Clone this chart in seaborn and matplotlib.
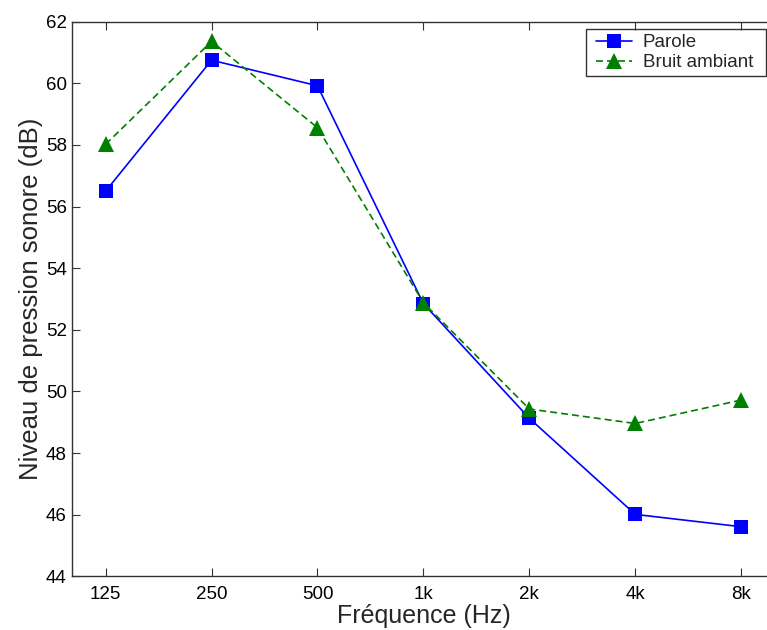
import numpy as np
import pandas as pd
import matplotlib
matplotlib.use("Agg")
import matplotlib.pyplot as plt
import matplotlib.patches as mpatches
import seaborn as sns

freqs = ['125', '250', '500', '1k', '2k', '4k', '8k']
parole = [56.5, 60.75, 59.92, 52.85, 49.13, 46.01, 45.61]
bruit = [58.02, 61.36, 58.56, 52.88, 49.43, 48.96, 49.72]

df = pd.DataFrame({
    'pos': list(range(len(freqs))) * 2,
    'niveau': parole + bruit,
    'serie': ['Parole'] * len(freqs) + ['Bruit ambiant'] * len(freqs),
})

sns.set_style('ticks')
plt.rcParams['font.family'] = ['Liberation Sans', 'DejaVu Sans']

W, H = 767, 630
fig = plt.figure(figsize=(W / 100, H / 100), dpi=100)
ax = fig.add_axes([0.0935, 0.0852, 0.917, 0.8804])

green_dash = (4.2, 2.4)
sns.lineplot(data=df, x='pos', y='niveau', hue='serie', style='serie',
             palette={'Parole': '#0000ff', 'Bruit ambiant': '#008000'},
             markers={'Parole': 's', 'Bruit ambiant': '^'},
             dashes={'Parole': '', 'Bruit ambiant': green_dash},
             markeredgewidth=0, ax=ax, legend=False)
# sizes per series (square ~14px, triangle a bit wider)
for line, lw, ms in zip(ax.lines, [1.2, 1.2], [10, 11.5]):
    line.set_linewidth(lw)
    line.set_markersize(ms)

ax.set_xlim(-0.32, 6.32)
ax.set_ylim(44, 62)
ax.set_xticks(range(len(freqs)))
ax.set_xticklabels(freqs)
ax.set_yticks(np.arange(44, 63, 2))
ax.tick_params(direction='in', top=True, right=True, length=5.5, width=0.8,
               labelsize=13.5, colors='#333333', labelcolor='black')
ax.tick_params(axis='x', pad=7)
ax.tick_params(axis='y', pad=3.5)
for sp in ax.spines.values():
    sp.set_visible(True)
    sp.set_color('#333333')
    sp.set_linewidth(1)

ax.set_xlabel('Fréquence (Hz)', fontsize=18, labelpad=1)
ax.set_ylabel('Niveau de pression sonore (dB)', fontsize=18.5, labelpad=2)

handles = [
    plt.Line2D([], [], color='#0000ff', marker='s', markersize=10, lw=1.2, mew=0),
    plt.Line2D([], [], color='#008000', marker='^', markersize=11.5, lw=1.2, mew=0,
               dashes=green_dash),
]
leg = ax.legend(handles, ['Parole', 'Bruit ambiant'], loc='upper left',
                bbox_to_anchor=(596 / W, 1 - 34 / H), bbox_transform=fig.transFigure,
                fontsize=13.5, frameon=False, borderpad=0,
                handlelength=1.9, handletextpad=0.6, labelspacing=0.17,
                borderaxespad=0)
# MATLAB-style box, wider padding at the sides than top/bottom
fig.add_artist(mpatches.Rectangle((586 / W, 1 - 76 / H), 180 / W, 47 / H,
                                  transform=fig.transFigure, fill=False,
                                  edgecolor='#333333', lw=1, zorder=5))

fig.savefig('out.png', dpi=100)
